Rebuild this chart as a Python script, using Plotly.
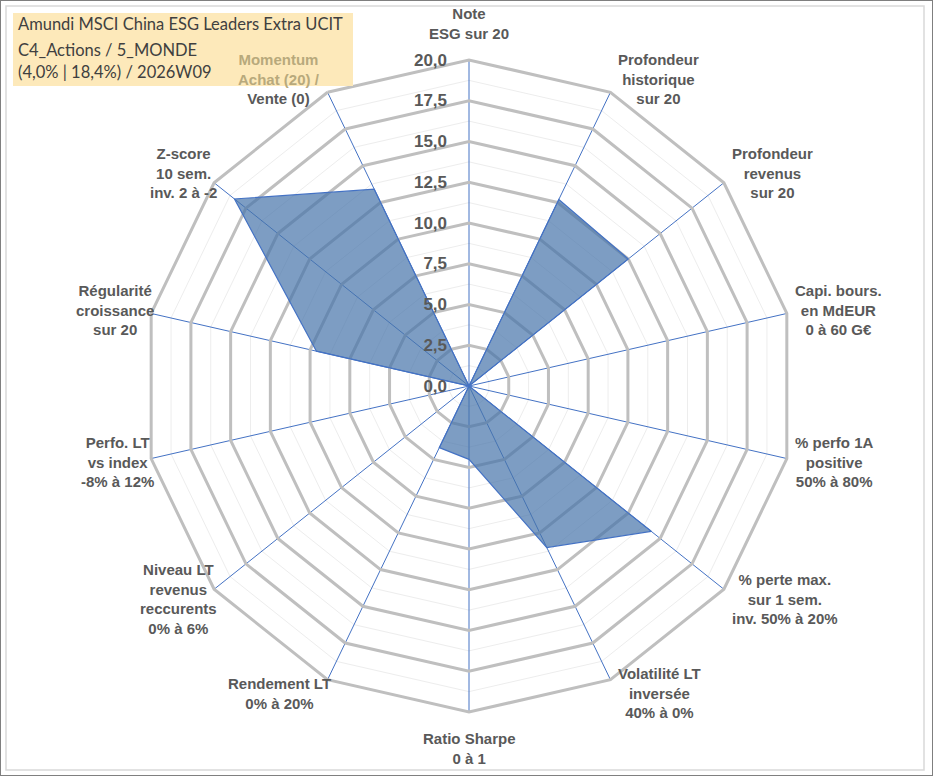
import math
import plotly.graph_objects as go

W, H = 933, 776

labels = [
    "Note<br>ESG sur 20",
    "Profondeur<br>historique<br>sur 20",
    "Profondeur<br>revenus<br>sur 20",
    "Capi. bours.<br>en MdEUR<br>0 à 60 G€",
    "% perfo 1A<br>positive<br>50% à 80%",
    "% perte max.<br>sur 1 sem.<br>inv. 50% à 20%",
    "Volatilité LT<br>inversée<br>40% à 0%",
    "Ratio Sharpe<br>0 à 1",
    "Rendement LT<br>0% à 20%",
    "Niveau LT<br>revenus<br>reccurents<br>0% à 6%",
    "Perfo. LT<br>vs index<br>-8% à 12%",
    "Régularité<br>croissance<br>sur 20",
    "Z-score<br>10 sem.<br>inv. 2 à -2",
    "Momentum<br>Achat (20) /<br>Vente (0)",
]
categories = [l.replace("<br>", " ") for l in labels]
scores = [0, 12.7, 12.5, 0, 0, 14.3, 11.0, 4.5, 4.2, 0, 0, 9.6, 18.4, 13.4]

major_ticks = [0, 2.5, 5, 7.5, 10, 12.5, 15, 17.5, 20]
minor_ticks = [t + 1.25 for t in major_ticks[:-1]]
# trailing nbsp pushes the labels away from the axis line
major_text = ["<b>" + f"{t:.1f}".replace(".", ",") + "</b>\u00a0\u00a0\u00a0\u00a0"
              for t in major_ticks]

title_lines = ["Amundi MSCI China ESG Leaders Extra UCIT",
               "C4_Actions / 5_MONDE",
               "(4,0% | 18,4%) / 2026W09"]

grey_txt = "#595959"
blue = "#4472C4"

# polar area (both layers share it)
dom_x = [143 / W, 795 / W]
dom_y = [1 - 712 / H, 1 - 60 / H]

fig = go.Figure()

# layer 1: faint minor grid only
fig.add_trace(go.Scatterpolar(r=[None] * len(categories), theta=categories,
                              subplot="polar", showlegend=False, hoverinfo="skip"))

# layer 2: the data
fig.add_trace(go.Scatterpolar(
    r=scores + scores[:1], theta=categories + categories[:1],
    subplot="polar2", mode="lines", fill="toself",
    fillcolor="rgba(70,115,170,0.7)", line=dict(color=blue, width=1.2),
    showlegend=False,
))

fig.update_layout(
    width=W, height=H,
    margin=dict(l=0, r=0, t=0, b=0),
    paper_bgcolor="white",
    showlegend=False,
    polar=dict(
        domain=dict(x=dom_x, y=dom_y),
        gridshape="linear",
        bgcolor="white",
        radialaxis=dict(range=[0, 20], tickvals=minor_ticks, showticklabels=False,
                        ticks="", showline=False, gridcolor="#EDEDED", gridwidth=1),
        angularaxis=dict(direction="clockwise", rotation=90, showgrid=False,
                         showticklabels=False, ticks="", showline=False),
    ),
    polar2=dict(
        domain=dict(x=dom_x, y=dom_y),
        gridshape="linear",
        bgcolor="rgba(0,0,0,0)",
        radialaxis=dict(range=[0, 20], tickvals=major_ticks, ticktext=major_text,
                        angle=90, tickangle=90, side="counterclockwise",
                        ticks="", showline=False, gridcolor="#BFBFBF", gridwidth=3,
                        tickfont=dict(family="Liberation Sans", size=17, color=grey_txt)),
        angularaxis=dict(direction="clockwise", rotation=90, showticklabels=False,
                         ticks="", gridcolor=blue, gridwidth=1.3,
                         showline=True, linecolor="#BFBFBF", linewidth=3),
    ),
)

# axis labels around the chart
cx = (dom_x[0] + dom_x[1]) / 2 * W
cy = (1 - (dom_y[0] + dom_y[1]) / 2) * H
R = (dom_x[1] - dom_x[0]) * W / 2
for i, lab in enumerate(labels):
    a = 2 * math.pi * i / len(labels)
    s, c = math.sin(a), math.cos(a)
    px = cx + R * s
    py = cy - R * c
    if s > 0.3:
        xa, xs = "left", 6
    elif s < -0.3:
        xa, xs = "right", 5
    else:
        xa, xs = "center", 0
    if c > 0.9 and xa == "center":
        ya, ys = "bottom", 16
    elif c < -0.9 and xa == "center":
        ya, ys = "top", -16
    else:
        ya, ys = "middle", 15 * c
    lab = "<b>" + lab.replace("<br>", "</b><br><b>") + "</b>"
    if i == len(labels) - 1:
        # partly hidden behind the title box
        lab = ("<span style='color:#B8A97C'><b>Momentum</b></span><br>"
               "<span style='color:#B8A97C'><b>Achat (20) /</b></span><br><b>Vente (0)</b>")
        xs = -6
    fig.add_annotation(x=px / W, y=1 - py / H, xref="paper", yref="paper",
                       text=lab, showarrow=False, xanchor=xa, yanchor=ya,
                       xshift=xs, yshift=ys, align="center",
                       font=dict(family="Liberation Sans", size=15, color=grey_txt))

# title box
fig.add_shape(type="rect", xref="paper", yref="paper",
              x0=13 / W, x1=353 / W, y0=1 - 86 / H, y1=1 - 13 / H,
              fillcolor="#FDE9BA", line=dict(width=0), layer="above")
for line, ypx in zip(title_lines, [24, 50, 72]):
    fig.add_annotation(x=16 / W, y=1 - ypx / H, xref="paper", yref="paper",
                       text=line, showarrow=False, xanchor="left", yanchor="middle",
                       font=dict(family="Lato", size=16.5, color="#404040"))

# frames
fig.add_shape(type="rect", xref="paper", yref="paper", x0=6 / W, x1=924 / W,
              y0=1 - 770 / H, y1=1 - 6 / H, line=dict(color="#D9D9D9", width=1.5))
fig.add_shape(type="rect", xref="paper", yref="paper", x0=0, x1=1, y0=0, y1=1,
              line=dict(color="#7F7F7F", width=2))

fig.write_html("out.html", config={"displayModeBar": False},
               post_script="document.body.style.margin='0';")
